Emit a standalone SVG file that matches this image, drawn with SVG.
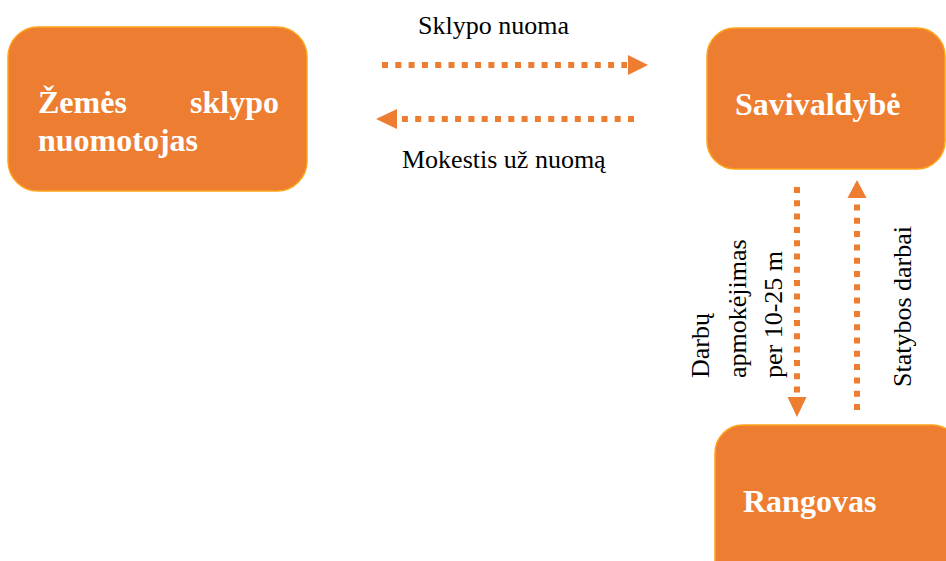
<svg xmlns="http://www.w3.org/2000/svg" width="946" height="561" viewBox="0 0 946 561">
  <style>
    .box { fill: #ED7D31; stroke: #FFA31A; stroke-width: 1.5; }
    .title { font-family: "Liberation Serif", "Times New Roman", serif; font-weight: bold; font-size: 32px; fill: #FFFFFF; }
    .lbl { font-family: "Liberation Serif", "Times New Roman", serif; font-size: 26px; fill: #000000; }
    .dot { stroke: #ED7D31; stroke-width: 6; stroke-dasharray: 6 7.3; fill: none; }
    .head { fill: #ED7D31; }
  </style>
  <rect width="946" height="561" fill="#FFFFFF"/>

  <g id="node-nuomotojas">
    <rect class="box" x="8" y="27" width="299" height="164" rx="30" ry="30"/>
    <text class="title"><tspan x="38" y="113">Žemės</tspan><tspan x="279" y="113" text-anchor="end">sklypo</tspan><tspan x="38" y="151">nuomotojas</tspan></text>
  </g>

  <g id="node-savivaldybe">
    <rect class="box" x="707" y="28" width="238" height="141" rx="28" ry="28"/>
    <text class="title" x="735" y="115">Savivaldybė</text>
  </g>

  <g id="node-rangovas">
    <rect class="box" x="715" y="425" width="245" height="170" rx="28" ry="28"/>
    <text class="title" x="743" y="512">Rangovas</text>
  </g>

  <g id="connectors">
    <line class="dot" x1="382" y1="65" x2="627" y2="65"/>
    <polygon class="head" points="628,55 648,65 628,75"/>
    <line class="dot" x1="634" y1="119" x2="399" y2="119"/>
    <polygon class="head" points="397,109 376,119 397,129"/>
    <line class="dot" x1="797" y1="187" x2="797" y2="396"/>
    <polygon class="head" points="787.5,397 806.5,397 797,417"/>
    <line class="dot" x1="857" y1="410" x2="857" y2="200"/>
    <polygon class="head" points="847.5,198 866.5,198 857,180"/>
  </g>

  <g id="labels">
    <text class="lbl" x="418" y="34">Sklypo nuoma</text>
    <text class="lbl" x="402" y="168">Mokestis už nuomą</text>
    <text class="lbl" transform="translate(709,378) rotate(-90)">Darbų</text>
    <text class="lbl" transform="translate(746,378) rotate(-90)">apmokėjimas</text>
    <text class="lbl" transform="translate(782,378) rotate(-90)">per 10-25 m</text>
    <text class="lbl" transform="translate(911,387) rotate(-90)">Statybos darbai</text>
  </g>
</svg>
